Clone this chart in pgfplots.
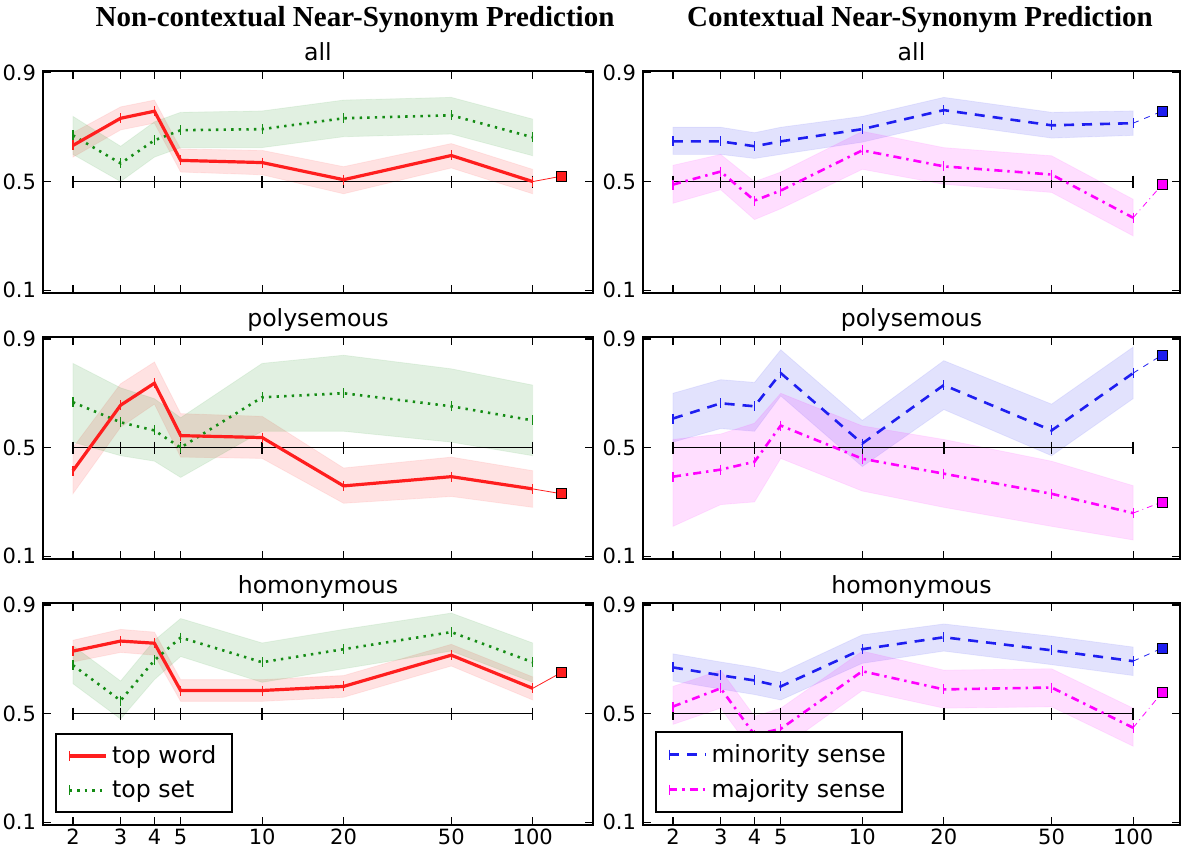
\documentclass[border=0pt]{standalone}
\usepackage{fontspec}
\setmainfont{Liberation Serif}
\newfontfamily\dejavu{DejaVu Sans}
\usepackage{pgfplots}
\usepackage{pgfplotstable}
\pgfplotsset{compat=1.18}
\usepgfplotslibrary{groupplots,fillbetween}

\pgfplotstableread{
x y lo hi
2 0.633 0.59 0.68
3 0.733 0.69 0.775
4 0.759 0.715 0.80
5 0.578 0.535 0.62
10 0.570 0.525 0.615
20 0.507 0.455 0.555
50 0.596 0.55 0.64
100 0.500 0.455 0.545
}\Aw
\pgfplotstableread{
x y lo hi
2 0.67 0.60 0.74
3 0.567 0.50 0.63
4 0.652 0.59 0.72
5 0.689 0.625 0.755
10 0.693 0.625 0.76
20 0.733 0.665 0.80
50 0.744 0.675 0.81
100 0.663 0.595 0.73
}\As
\pgfplotstableread{
x y lo hi
2 .648 .60 .70
3 .648 .60 .70
4 .63 .585 .68
5 .648 .60 .70
10 .693 .645 .74
20 .763 .715 .81
50 .707 .66 .755
100 .715 .67 .76
}\Ami
\pgfplotstableread{
x y lo hi
2 .489 .42 .56
3 .537 .47 .60
4 .43 .36 .50
5 .467 .40 .535
10 .615 .545 .685
20 .556 .49 .625
50 .526 .46 .595
100 .367 .30 .435
}\Ama
\pgfplotstableread{
x y lo hi
2 .415 .33 .50
3 .656 .575 .735
4 .737 .66 .815
5 .544 .465 .625
10 .537 .46 .615
20 .359 .295 .425
50 .393 .32 .465
100 .348 .28 .415
}\Pw
\pgfplotstableread{
x y lo hi
2 .667 .52 .81
3 .593 .47 .72
4 .563 .45 .68
5 .50 .39 .61
10 .685 .56 .81
20 .70 .56 .84
50 .652 .52 .79
100 .60 .47 .73
}\Ps
\pgfplotstableread{
x y lo hi
2 .607 .52 .70
3 .663 .57 .75
4 .652 .56 .74
5 .774 .69 .86
10 .515 .43 .60
20 .73 .64 .82
50 .563 .47 .66
100 .774 .68 .87
}\Pmi
\pgfplotstableread{
x y lo hi
2 .393 .21 .53
3 .419 .29 .55
4 .448 .30 .59
5 .581 .46 .70
10 .459 .34 .58
20 .404 .28 .53
50 .33 .21 .45
100 .259 .16 .36
}\Pma
\pgfplotstableread{
x y lo hi
2 .73 .69 .77
3 .767 .725 .81
4 .759 .715 .80
5 .585 .545 .625
10 .585 .545 .625
20 .60 .56 .64
50 .715 .675 .755
100 .593 .55 .635
}\Hw
\pgfplotstableread{
x y lo hi
2 .678 .61 .75
3 .548 .48 .62
4 .696 .625 .77
5 .78 .71 .85
10 .689 .615 .76
20 .737 .665 .81
50 .80 .73 .87
100 .689 .615 .76
}\Hs
\pgfplotstableread{
x y lo hi
2 .67 .62 .72
3 .641 .59 .69
4 .622 .57 .67
5 .60 .55 .65
10 .737 .685 .79
20 .781 .73 .83
50 .733 .68 .785
100 .693 .64 .745
}\Hmi
\pgfplotstableread{
x y lo hi
2 .526 .46 .60
3 .593 .52 .66
4 .422 .35 .49
5 .444 .37 .52
10 .656 .585 .73
20 .589 .52 .66
50 .596 .525 .665
100 .448 .38 .52
}\Hma

\definecolor{mred}{RGB}{255,30,30}
\definecolor{mgreen}{RGB}{20,140,20}
\definecolor{mblue}{RGB}{30,30,240}
\definecolor{mmag}{RGB}{255,0,255}

\newcommand\band[3]{%
  \addplot[draw=none, forget plot, name path=#3u] table[x=x,y=hi] {#1};
  \addplot[draw=none, forget plot, name path=#3l] table[x=x,y=lo] {#1};
  \addplot[fill=#2, fill opacity=0.13, draw=#2, draw opacity=0.08, forget plot] fill between[of=#3u and #3l];
}
\newcommand\half{\addplot[black, line width=0.7pt, mark=|, mark size=3pt, forget plot] coordinates {(2,0.5)(3,0.5)(4,0.5)(5,0.5)(10,0.5)(20,0.5)(50,0.5)(100,0.5)};}
\newcommand\ser[3]{\addplot[#2, #3, mark=|, mark size=2.5pt, mark options={solid, line width=0.6pt}] table[x=x,y=y] {#1};}
\tikzset{
 sw/.style={line width=1.6pt},
 ss/.style={line width=1.3pt, dash pattern=on 1.2pt off 2.6pt},
 smi/.style={line width=1.3pt, dash pattern=on 5pt off 4pt},
 sma/.style={line width=1.3pt, dash pattern=on 4pt off 2.5pt on 1.2pt off 2.5pt},
}

\begin{document}
\begin{tikzpicture}
\begin{groupplot}[
  group style={group size=2 by 3, horizontal sep=25pt, vertical sep=22pt, xticklabels at=edge bottom},
  scale only axis, height=111pt,
  xmode=log, xmin=1.55,
  ymin=0.09, ymax=0.907,
  ytick={0.1,0.5,0.9}, yticklabels={0.1,0.5,0.9},
  xtick={2,3,4,5,10,20,50,100}, xticklabels={2,3,4,5,10,20,50,100},
  minor xtick={},
  tick align=inside, major tick length=4pt,
  axis line style={line width=0.9pt}, tick style={black, line width=0.6pt},
  ticklabel style={font=\dejavu\fontsize{10.5}{12}\selectfont},
  xticklabel style={yshift=1.5pt},
  /pgf/number format/assume math mode=true,
  title style={font=\dejavu\fontsize{11.8}{14}\selectfont, anchor=base, at={(0.5,1)}, yshift=-1pt},
  legend style={font=\dejavu\fontsize{11.8}{14}\selectfont, at={(0,0)}, xshift=6pt, yshift=6pt, anchor=south west, draw=black, line width=0.9pt, inner xsep=6pt, inner ysep=4pt, row sep=3pt, /tikz/every even column/.append style={column sep=8pt}},
  legend cell align=left,
  legend image code/.code={\draw[#1, mark repeat=2, mark phase=1] plot coordinates {(0cm,0cm) (0.65cm,0cm)};},
  clip=false,
]
% row 1
\nextgroupplot[width=275pt, xmax=167, title={all}]
\coordinate (tl1) at (rel axis cs:0,1);
\band{\Aw}{mred}{a}\band{\As}{mgreen}{b}\half
\ser{\As}{mgreen}{ss}
\ser{\Aw}{mred}{sw}
\addplot[mred, thin, forget plot] coordinates {(100,0.5)(128,0.52)};
\addplot[only marks, mark=square*, mark size=2.5pt, mark options={fill=mred, draw=black, thin}, forget plot] coordinates {(128,0.52)};
\nextgroupplot[width=268.5pt, xmax=149, title={all}]
\coordinate (tr) at (rel axis cs:1,1);
\coordinate (tl2) at (rel axis cs:0,1);
\band{\Ami}{mblue}{c}\band{\Ama}{mmag}{d}\half
\ser{\Ama}{mmag}{sma}
\ser{\Ami}{mblue}{smi}
\addplot[mblue, thin, dashed, forget plot] coordinates {(100,0.715)(128,0.759)};
\addplot[mmag, thin, dash dot, forget plot] coordinates {(100,0.367)(128,0.489)};
\addplot[only marks, mark=square*, mark size=2.5pt, mark options={fill=mblue, draw=black, thin}, forget plot] coordinates {(128,0.759)};
\addplot[only marks, mark=square*, mark size=2.5pt, mark options={fill=mmag, draw=black, thin}, forget plot] coordinates {(128,0.489)};
% row 2
\nextgroupplot[width=275pt, xmax=167, title={polysemous}]
\band{\Pw}{mred}{e}\band{\Ps}{mgreen}{f}\half
\ser{\Ps}{mgreen}{ss}
\ser{\Pw}{mred}{sw}
\addplot[mred, thin, forget plot] coordinates {(100,0.348)(128,0.33)};
\addplot[only marks, mark=square*, mark size=2.5pt, mark options={fill=mred, draw=black, thin}, forget plot] coordinates {(128,0.33)};
\nextgroupplot[width=268.5pt, xmax=149, title={polysemous}]
\band{\Pmi}{mblue}{g}\band{\Pma}{mmag}{h}\half
\ser{\Pma}{mmag}{sma}
\ser{\Pmi}{mblue}{smi}
\addplot[mblue, thin, dashed, forget plot] coordinates {(100,0.774)(128,0.841)};
\addplot[mmag, thin, dash dot, forget plot] coordinates {(100,0.259)(128,0.30)};
\addplot[only marks, mark=square*, mark size=2.5pt, mark options={fill=mblue, draw=black, thin}, forget plot] coordinates {(128,0.841)};
\addplot[only marks, mark=square*, mark size=2.5pt, mark options={fill=mmag, draw=black, thin}, forget plot] coordinates {(128,0.30)};
% row 3
\nextgroupplot[width=275pt, xmax=167, title={homonymous}]
\coordinate (bl) at (rel axis cs:0,0);
\band{\Hw}{mred}{i}\band{\Hs}{mgreen}{j}\half
\ser{\Hw}{mred}{sw}
\ser{\Hs}{mgreen}{ss}
\addplot[mred, thin, forget plot] coordinates {(100,0.593)(128,0.652)};
\addplot[only marks, mark=square*, mark size=2.5pt, mark options={fill=mred, draw=black, thin}, forget plot] coordinates {(128,0.652)};
\legend{top word, top set}
\nextgroupplot[width=268.5pt, xmax=149, title={homonymous}]
\band{\Hmi}{mblue}{k}\band{\Hma}{mmag}{l}\half
\ser{\Hmi}{mblue}{smi}
\ser{\Hma}{mmag}{sma}
\addplot[mblue, thin, dashed, forget plot] coordinates {(100,0.693)(128,0.741)};
\addplot[mmag, thin, dash dot, forget plot] coordinates {(100,0.448)(128,0.578)};
\addplot[only marks, mark=square*, mark size=2.5pt, mark options={fill=mblue, draw=black, thin}, forget plot] coordinates {(128,0.741)};
\addplot[only marks, mark=square*, mark size=2.5pt, mark options={fill=mmag, draw=black, thin}, forget plot] coordinates {(128,0.578)};
\legend{minority sense, majority sense}
\end{groupplot}
\node[font=\bfseries\fontsize{14.5}{16}\selectfont, anchor=base] at ([xshift=156pt, yshift=22pt]tl1) {Non-contextual Near-Synonym Prediction};
\node[font=\bfseries\fontsize{14.5}{16}\selectfont, anchor=base] at ([xshift=138.5pt, yshift=22pt]tl2) {Contextual Near-Synonym Prediction};
\pgfresetboundingbox
\path ([xshift=-21.5pt, yshift=-13pt]bl) rectangle ([xshift=5.5pt, yshift=35.5pt]tr);
\end{tikzpicture}
\end{document}
